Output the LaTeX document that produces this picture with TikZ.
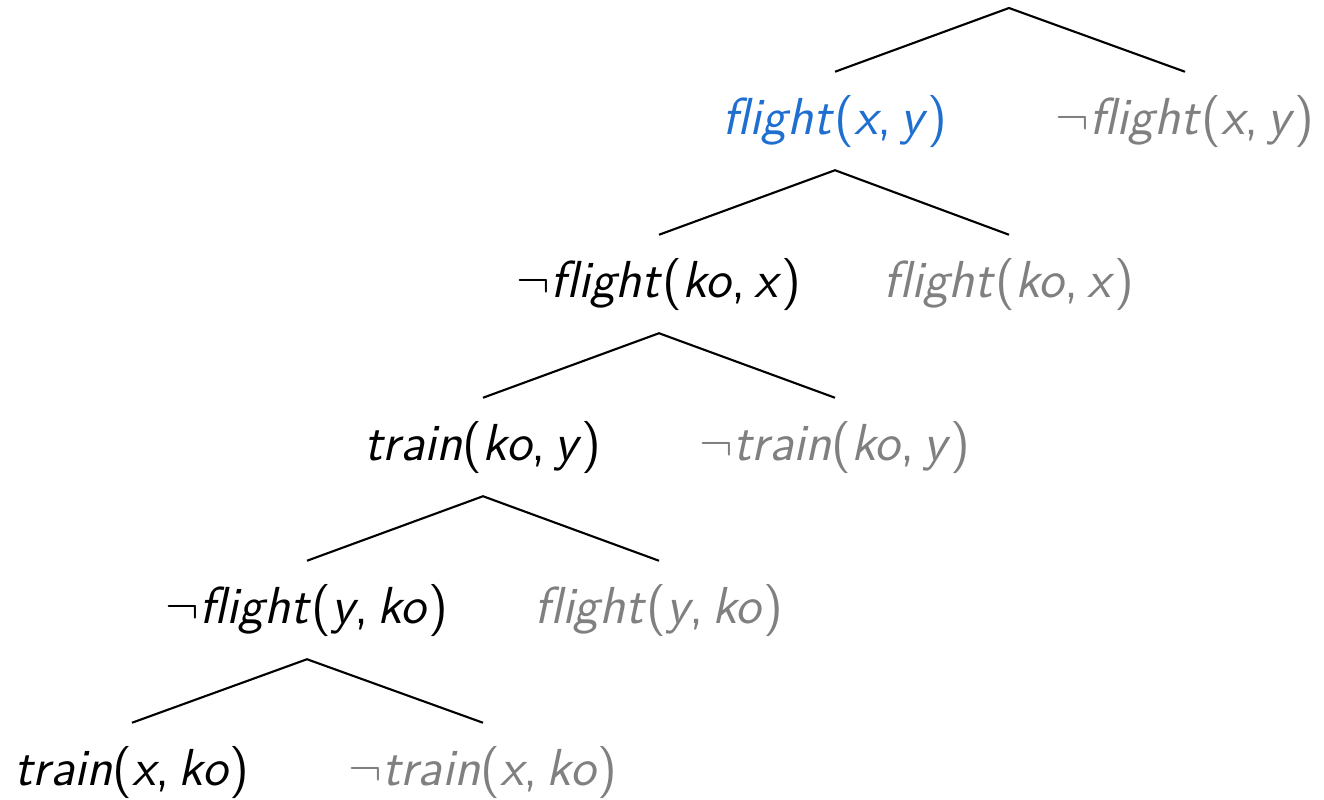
\documentclass[tikz,border=0pt]{standalone}
\usepackage{xcolor}
\usetikzlibrary{calc}
\definecolor{ink}{HTML}{000000}
\definecolor{chosen}{HTML}{1E6FD0}
\definecolor{pruned}{HTML}{808080}
\tikzset{
  lit/.style={
    anchor=base,
    font=\sffamily\fontsize{14.8}{17}\selectfont,
    text height=11.1pt,
    text depth=3.7pt,
    inner xsep=0pt,
    inner ysep=0.225cm
  },
  keptlit/.style={lit, text=ink},
  cutlit/.style={lit, text=pruned},
  hitlit/.style={lit, text=chosen},
  branch/.style={
    draw=ink,
    line width=0.6pt
  }
}
\newcommand{\fl}{\textit{f\kern0pt light}}
\newcommand{\tr}{\textit{train}}
\newcommand{\nt}{$\neg$}

\begin{document}
\begin{tikzpicture}[x=0.01cm,y=-0.01cm]

% Background
\fill[white] (0,0) rectangle (1324,800);
\useasboundingbox (0,0) rectangle (1324,800);

% Root
\coordinate (root) at (1009,8);

% Level 1
\node[hitlit] (fxy)  at (835,134)  {\fl(\textit{x},\,\textit{y})};
\node[cutlit] (nfxy) at (1185,134) {\nt\fl(\textit{x},\,\textit{y})};

% Level 2
\node[keptlit] (nfkx) at (659,297)  {\nt\fl(\textit{ko},\,\textit{x})};
\node[cutlit]  (fkx)  at (1009,297) {\fl(\textit{ko},\,\textit{x})};

% Level 3
\node[keptlit] (tky)  at (483,460) {\tr(\textit{ko},\,\textit{y})};
\node[cutlit]  (ntky) at (835,460) {\nt\tr(\textit{ko},\,\textit{y})};

% Level 4
\node[keptlit] (nfyk) at (307,623) {\nt\fl(\textit{y},\,\textit{ko})};
\node[cutlit]  (fyk)  at (659,623) {\fl(\textit{y},\,\textit{ko})};

% Level 5
\node[keptlit] (txk)  at (132,785) {\tr(\textit{x},\,\textit{ko})};
\node[cutlit]  (ntxk) at (483,785) {\nt\tr(\textit{x},\,\textit{ko})};

% Branches
\draw[branch] (fxy.north) -- (root) -- (nfxy.north);
\draw[branch] (nfkx.north) -- (fxy.south) -- (fkx.north);
\draw[branch] (tky.north) -- (nfkx.south) -- (ntky.north);
\draw[branch] (nfyk.north) -- (tky.south) -- (fyk.north);
\draw[branch] (txk.north) -- (nfyk.south) -- (ntxk.north);

\end{tikzpicture}
\end{document}
